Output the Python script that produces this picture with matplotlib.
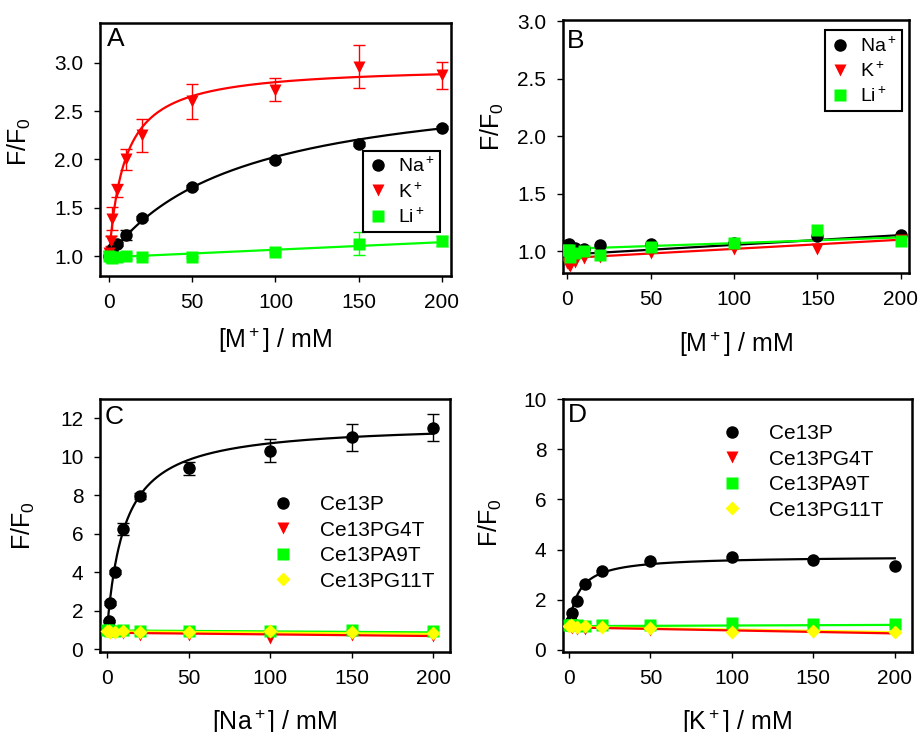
import numpy as np
import matplotlib
matplotlib.use('Agg')
import matplotlib.pyplot as plt
from matplotlib.ticker import FormatStrFormatter

plt.rcParams['font.family'] = ['Liberation Sans', 'DejaVu Sans']
plt.rcParams['mathtext.fontset'] = 'custom'
plt.rcParams['mathtext.rm'] = 'Liberation Sans'
plt.rcParams['mathtext.it'] = 'Liberation Sans:italic'
plt.rcParams['mathtext.bf'] = 'Liberation Sans:bold'

# ---------------- data ----------------
conc = [0, 1, 2, 5, 10, 20, 50, 100, 150, 200]

# Panel A (Ce13P with M+)
na_A = [1.00, 1.03, 1.08, 1.13, 1.22, 1.40, 1.72, 1.99, 2.16, 2.33]
na_A_err = [0.01, 0.01, 0.02, 0.02, 0.05, 0.02, 0.02, 0.02, 0.02, 0.02]
k_A = [1.03, 1.16, 1.39, 1.68, 2.00, 2.25, 2.60, 2.72, 2.96, 2.87]
k_A_err = [0.03, 0.05, 0.12, 0.07, 0.11, 0.17, 0.18, 0.12, 0.22, 0.14]
li_A = [1.00, 0.99, 0.98, 0.99, 1.00, 0.99, 0.99, 1.04, 1.13, 1.16]
li_A_err = [0.03, 0.03, 0.03, 0.03, 0.03, 0.01, 0.01, 0.01, 0.12, 0.05]
# fit parameters: hyperbolic (F0, Bmax, Kd) or linear (a, b)
fit_A_na = (1.0, 1.85, 80.0)
fit_A_k = (1.0, 1.97, 9.5)
fit_A_li = (0.99, 0.00078)

# Panel B (control with M+)
na_B = [1.05, 1.06, 1.04, 1.03, 1.02, 1.05, 1.06, 1.07, 1.13, 1.14]
k_B = [0.90, 0.88, 0.87, 0.91, 0.94, 0.95, 0.98, 1.02, 1.02, 1.10]
li_B = [1.01, 1.01, 0.95, 0.98, 1.00, 0.97, 1.04, 1.07, 1.18, 1.09]
fit_B_na = (0.97, 0.00085)
fit_B_k = (0.94, 0.00080)
fit_B_li = (1.02, 0.00050)

# Panel C ([Na+])
ce13p_C = [1.00, 1.46, 2.41, 4.03, 6.23, 7.97, 9.40, 10.30, 11.00, 11.50]
ce13p_C_err = [0.05, 0.05, 0.1, 0.1, 0.3, 0.15, 0.35, 0.6, 0.7, 0.7]
g4t_C = [0.95, 0.90, 0.85, 0.85, 0.85, 0.72, 0.72, 0.58, 0.72, 0.66]
a9t_C = [1.00, 1.00, 0.95, 0.95, 1.00, 0.95, 0.92, 0.95, 1.00, 0.92]
g11t_C = [0.95, 0.95, 0.90, 0.90, 0.95, 0.90, 0.88, 0.92, 0.90, 0.86]
fit_C_ce13p = (1.0, 10.75, 10.85)
fit_C_g4t = (0.85, -0.00085)
fit_C_a9t = (0.97, -0.00050)
fit_C_g11t = (0.92, -0.00065)

# Panel D ([K+])
ce13p_D = [1.00, 1.15, 1.48, 1.97, 2.62, 3.15, 3.56, 3.72, 3.59, 3.35]
g4t_D = [0.95, 0.92, 0.88, 0.85, 0.85, 0.90, 0.80, 0.75, 0.70, 0.70]
a9t_D = [1.00, 1.00, 0.98, 0.98, 0.95, 0.98, 1.00, 1.06, 1.02, 1.02]
g11t_D = [0.95, 1.00, 0.95, 0.92, 0.95, 0.93, 0.86, 0.73, 0.76, 0.73]
fit_D_ce13p = (1.0, 2.74, 6.57)
fit_D_g4t = (0.90, -0.00120)
fit_D_a9t = (0.95, 0.00025)
fit_D_g11t = (0.92, -0.00105)

xticks = [0, 50, 100, 150, 200]

RED = '#ff0000'
GREEN = '#00ff00'
YELLOW = '#ffff00'
BLACK = '#000000'


def hyper(x, p):
    f0, bmax, kd = p
    return f0 + bmax * x / (kd + x)


def lin(x, p):
    a, b = p
    return a + b * x


fig = plt.figure(figsize=(9.2, 7.32), dpi=100)

axA = fig.add_axes([0.1087, 0.623, 0.3815, 0.3456])
axB = fig.add_axes([0.612, 0.627, 0.376, 0.3456])
axC = fig.add_axes([0.1087, 0.1093, 0.3804, 0.3456])
axD = fig.add_axes([0.612, 0.1093, 0.379, 0.3456])

xx = np.linspace(0, 200, 600)


def style(ax, xlim, ylim, yticks, yfmt, letter, lpos):
    ax.set_xlim(*xlim)
    ax.set_ylim(*ylim)
    ax.set_xticks(xticks)
    ax.set_yticks(yticks)
    if yfmt:
        ax.yaxis.set_major_formatter(FormatStrFormatter(yfmt))
    ax.tick_params(direction='out', length=4, width=1, labelsize=15, pad=8,
                   top=False, right=False)
    for s in ax.spines.values():
        s.set_linewidth(1.8)
    ax.text(lpos[0], lpos[1], letter, transform=ax.transAxes, fontsize=19,
            ha='left', va='top')


ms = 9
lab_na = '$\\mathregular{Na^+}$'
lab_k = '$\\mathregular{K^+}$'
lab_li = '$\\mathregular{Li^+}$'

# ---- Panel A ----
axA.plot(xx, hyper(xx, fit_A_na), color=BLACK, lw=1.6, zorder=2)
axA.plot(xx, hyper(xx, fit_A_k), color=RED, lw=1.6, zorder=2)
axA.plot(xx, lin(xx, fit_A_li), color=GREEN, lw=1.6, zorder=2)
axA.errorbar(conc, na_A, yerr=na_A_err, fmt='none', ecolor=BLACK, elinewidth=1, capsize=4, zorder=3)
axA.errorbar(conc, k_A, yerr=k_A_err, fmt='none', ecolor=RED, elinewidth=1, capsize=4, zorder=3)
axA.errorbar(conc, li_A, yerr=li_A_err, fmt='none', ecolor=GREEN, elinewidth=1, capsize=4, zorder=3)
axA.plot(conc, na_A, 'o', color=BLACK, ms=ms, mec='none', label=lab_na, zorder=4)
axA.plot(conc, k_A, 'v', color=RED, ms=ms, mec='none', label=lab_k, zorder=4)
axA.plot(conc, li_A, 's', color=GREEN, ms=ms - 1, mec='none', label=lab_li, zorder=4)
style(axA, (-5.4, 205.4), (0.797, 3.41), [1.0, 1.5, 2.0, 2.5, 3.0], '%.1f', 'A', (0.02, 0.985))
legA = axA.legend(loc='upper right', bbox_to_anchor=(0.969, 0.494), fontsize=14,
                  frameon=True, fancybox=False, edgecolor='black', framealpha=1,
                  handlelength=1.0, handletextpad=0.5, labelspacing=0.3,
                  borderpad=0.3, borderaxespad=0)
legA.get_frame().set_linewidth(1.5)

# ---- Panel B ----
axB.plot(xx, lin(xx, fit_B_na), color=BLACK, lw=1.6, zorder=2)
axB.plot(xx, lin(xx, fit_B_k), color=RED, lw=1.6, zorder=2)
axB.plot(xx, lin(xx, fit_B_li), color=GREEN, lw=1.6, zorder=2)
axB.plot(conc, na_B, 'o', color=BLACK, ms=ms, mec='none', label=lab_na, zorder=4)
axB.plot(conc, k_B, 'v', color=RED, ms=ms, mec='none', label=lab_k, zorder=4)
axB.plot(conc, li_B, 's', color=GREEN, ms=ms - 1, mec='none', label=lab_li, zorder=4)
style(axB, (-2.4, 204.8), (0.81, 3.01), [1.0, 1.5, 2.0, 2.5, 3.0], '%.1f', 'B', (0.012, 0.965))
legB = axB.legend(loc='upper right', bbox_to_anchor=(0.98, 0.96), fontsize=14,
                  frameon=True, fancybox=False, edgecolor='black', framealpha=1,
                  handlelength=1.0, handletextpad=0.5, labelspacing=0.3,
                  borderpad=0.3, borderaxespad=0)
legB.get_frame().set_linewidth(1.5)

# ---- Panel C ----
axC.plot(xx, hyper(xx, fit_C_ce13p), color=BLACK, lw=1.6, zorder=2)
axC.plot(xx, lin(xx, fit_C_a9t), color=GREEN, lw=1.6, zorder=2)
axC.plot(xx, lin(xx, fit_C_g11t), color=YELLOW, lw=1.6, zorder=2)
axC.plot(xx, lin(xx, fit_C_g4t), color=RED, lw=1.6, zorder=2)
axC.errorbar(conc, ce13p_C, yerr=ce13p_C_err, fmt='none', ecolor=BLACK, elinewidth=1, capsize=4, zorder=3)
axC.plot(conc, ce13p_C, 'o', color=BLACK, ms=ms, mec='none', label='Ce13P', zorder=4)
axC.plot(conc, g4t_C, 'v', color=RED, ms=ms, mec='none', label='Ce13PG4T', zorder=4)
axC.plot(conc, a9t_C, 's', color=GREEN, ms=ms - 1, mec='none', label='Ce13PA9T', zorder=4)
axC.plot(conc, g11t_C, 'D', color=YELLOW, ms=ms - 1.5, mec='none', label='Ce13PG11T', zorder=5)
style(axC, (-4.3, 210.4), (-0.15, 13.0), [0, 2, 4, 6, 8, 10, 12], None, 'C', (0.014, 0.975))
axC.legend(loc='upper left', bbox_to_anchor=(0.463, 0.62), fontsize=15, frameon=False,
           handlelength=2.0, handletextpad=0.8, labelspacing=0.31,
           borderpad=0, borderaxespad=0)

# ---- Panel D ----
axD.plot(xx, hyper(xx, fit_D_ce13p), color=BLACK, lw=1.6, zorder=2)
axD.plot(xx, lin(xx, fit_D_a9t), color=GREEN, lw=1.6, zorder=2)
axD.plot(xx, lin(xx, fit_D_g11t), color=YELLOW, lw=1.6, zorder=2)
axD.plot(xx, lin(xx, fit_D_g4t), color=RED, lw=1.6, zorder=2)
axD.plot(conc, ce13p_D, 'o', color=BLACK, ms=ms, mec='none', label='Ce13P', zorder=4)
axD.plot(conc, g4t_D, 'v', color=RED, ms=ms, mec='none', label='Ce13PG4T', zorder=4)
axD.plot(conc, a9t_D, 's', color=GREEN, ms=ms - 1, mec='none', label='Ce13PA9T', zorder=4)
axD.plot(conc, g11t_D, 'D', color=YELLOW, ms=ms - 1.5, mec='none', label='Ce13PG11T', zorder=5)
style(axD, (-3.7, 210.4), (-0.08, 10.0), [0, 2, 4, 6, 8, 10], None, 'D', (0.014, 0.985))
axD.legend(loc='upper left', bbox_to_anchor=(0.424, 0.9), fontsize=15, frameon=False,
           handlelength=2.0, handletextpad=0.8, labelspacing=0.31,
           borderpad=0, borderaxespad=0)

# ---- axis labels ----
ylab = 'F/F$\\mathregular{_0}$'
for ax, xpos, ypos in ((axA, -0.19, 0.53), (axB, -0.165, 0.58),
                       (axC, -0.18, 0.5), (axD, -0.17, 0.51)):
    ax.set_ylabel(ylab, fontsize=18)
    ax.yaxis.set_label_coords(xpos, ypos)

axA.set_xlabel('$\\mathregular{[M^+]}$ / mM', fontsize=18)
axB.set_xlabel('$\\mathregular{[M^+]}$ / mM', fontsize=18)
axC.set_xlabel('$\\mathregular{[Na^+]}$ / mM', fontsize=18)
axD.set_xlabel('$\\mathregular{[K^+]}$ / mM', fontsize=18)
axA.xaxis.set_label_coords(0.5, -0.195)
axB.xaxis.set_label_coords(0.5, -0.225)
axC.xaxis.set_label_coords(0.5, -0.22)
axD.xaxis.set_label_coords(0.5, -0.22)

fig.savefig('out.png', dpi=100)
